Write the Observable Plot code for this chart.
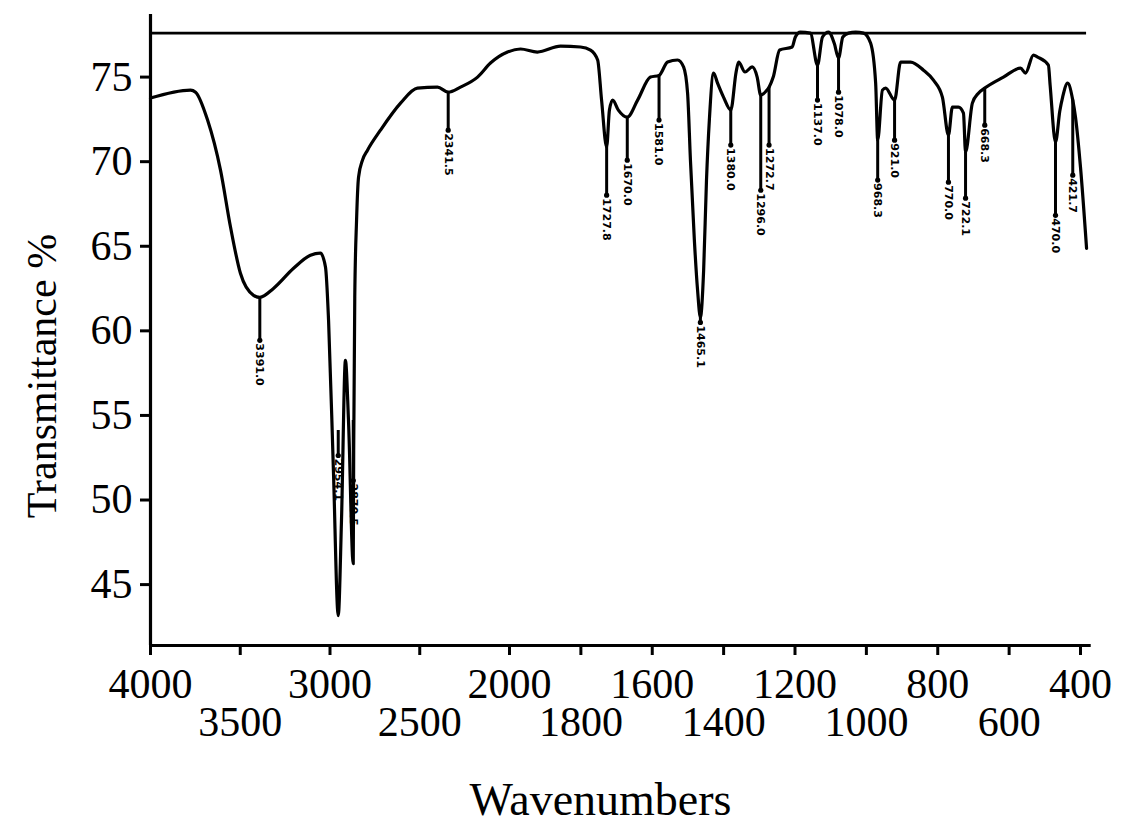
<!DOCTYPE html>
<html>
<head>
<meta charset="utf-8">
<script src="https://cdn.jsdelivr.net/npm/d3@7"></script>
<script src="https://cdn.jsdelivr.net/npm/@observablehq/plot@0.6"></script>
<style>
  body { margin: 0; background: #fff; }
</style>
</head>
<body>
<div id="chart"></div>
<script>
// IR spectrum: wavenumber (cm-1) against transmittance (%)
const wavenumber = [
  4000, 3777, 3749, 3682, 3610, 3554, 3499, 3426, 3391, 3315, 3203, 3109, 3053, 3025, 3008,
  2981, 2954.1, 2936, 2914, 2897, 2870.5, 2868, 2862, 2852, 2841, 2819, 2791, 2719, 2607,
  2513, 2401, 2341.5, 2273, 2178, 2106, 2011, 1969, 1922, 1857, 1801, 1773, 1753, 1742,
  1727.8, 1720, 1711, 1695, 1670, 1641, 1605, 1581, 1557, 1529, 1512, 1501, 1493, 1482,
  1473, 1465.1, 1456, 1448, 1440, 1428, 1417, 1400, 1380, 1365, 1358, 1340, 1320, 1306,
  1296, 1280, 1272.7, 1261, 1243, 1208, 1199, 1185, 1157, 1137, 1123, 1106, 1090, 1078,
  1066, 1050, 1030, 1008, 988, 974, 968.3, 955, 946, 921, 904, 876, 840, 812, 787, 770,
  759, 742, 728, 722.1, 703, 686, 668.3, 616, 568, 554, 532, 520, 490, 485, 470, 458, 450,
  436, 421.7, 414, 400, 383
];
const transmittance = [
  73.76, 74.23, 74.11, 72.46, 69.50, 66.12, 63.40, 62.10, 61.98, 62.51, 63.70, 64.47, 64.59, 63.76, 60.62,
  51.75, 43.17, 48.79, 58.25, 54.70, 46.24, 53.0, 62.0, 66.54, 69.08, 70.09, 70.68, 71.86, 73.46,
  74.35, 74.41, 74.11, 74.41, 75.0, 75.83, 76.48, 76.66, 76.48, 76.83, 76.78, 76.60, 76.01, 73.64,
  70.86, 73.05, 73.64, 73.05, 72.63, 73.64, 75.0, 75.1, 75.89, 76.01, 75.59, 74.05, 70.09, 65.36,
  62.40, 60.80, 63.58, 68.91, 72.46, 75.24, 74.64, 73.8, 73.05, 75.3, 75.89, 75.3, 75.6, 75.0,
  73.93, 74.2, 74.4, 75.0, 76.6, 76.78, 77.37, 77.66, 77.6, 75.71, 77.37, 77.66, 77.0, 76.12,
  77.37, 77.6, 77.66, 77.6, 77.0, 74.64, 71.27, 74.23, 74.35, 73.64, 75.89, 75.89, 75.41, 74.82, 73.82, 71.57,
  73.22, 73.22, 72.87, 70.56, 73.46, 74.05, 74.35, 75.0, 75.53, 75.24, 76.30, 76.18, 75.71, 74.5, 71.15, 73.0, 73.82,
  74.64, 73.64, 72.63, 69.67, 64.88
];

// Marked peaks: position, where the marker leaves the curve, where its label begins
const peakWavenumber = [3391.0, 2954.1, 2870.5, 2341.5, 1727.8, 1670.0, 1581.0, 1465.1, 1380.0, 1296.0,
  1272.7, 1137.0, 1078.0, 968.3, 921.0, 770.0, 722.1, 668.3, 470.0, 421.7];
const peakTop = [61.98, 54.11, 54.70, 74.11, 70.86, 72.63, 75.1, 60.80, 73.05, 73.93,
  74.4, 75.71, 76.12, 71.27, 73.64, 71.57, 70.56, 74.35, 71.15, 73.64];
const peakFoot = [59.44, 52.63, 51.15, 71.86, 68.02, 70.09, 72.46, 60.50, 70.98, 68.31,
  70.98, 73.64, 74.11, 68.91, 71.27, 68.79, 67.84, 72.16, 66.83, 69.20];

const ticksRowOne = [4000, 3000, 2000, 1600, 1200, 800, 400];
const ticksRowTwo = [3500, 2500, 1800, 1400, 1000, 600];
const yTicks = [45, 50, 55, 60, 65, 70, 75];
const referenceLevel = 77.6;
const yExtent = [41.4, 78.7];
const axisEnd = 370;

const spectrum = wavenumber.map((w, i) => ({w, t: transmittance[i]}));
const peaks = peakWavenumber.map((w, i) => ({w, top: peakTop[i], foot: peakFoot[i], label: w.toFixed(1)}));

const serif = "Liberation Serif";

const chart = Plot.plot({
  width: 1143,
  height: 824,
  marginLeft: 150,
  marginRight: 63,
  marginTop: 14,
  marginBottom: 179,
  style: {fontFamily: serif, background: "#fff", color: "#000"},
  // split wavenumber scale: 4000–2000 compressed, 2000–400 expanded
  x: {type: "linear", domain: [4000, 2000, 400], range: [150, 509, 1080], label: null},
  y: {type: "linear", domain: yExtent, label: null},
  marks: [
    // frame: left axis, bottom axis, reference line
    Plot.ruleX([4000], {y1: yExtent[0], y2: yExtent[1], strokeWidth: 3.2}),
    Plot.ruleY([yExtent[0]], {x1: 4000, x2: axisEnd, strokeWidth: 3}),
    Plot.ruleY([referenceLevel], {x1: 4000, x2: wavenumber[wavenumber.length - 1], strokeWidth: 2.6}),
    Plot.axisY(yTicks, {tickSize: 10, tickPadding: 8, fontSize: 42, strokeWidth: 3, label: null, tickFormat: d => `${d}`}),
    Plot.axisX(ticksRowOne, {tickSize: 10, tickPadding: 13, fontSize: 42, strokeWidth: 3, label: null, tickFormat: d => `${d}`}),
    Plot.axisX(ticksRowTwo, {tickSize: 10, tickPadding: 51, fontSize: 42, strokeWidth: 3, label: null, tickFormat: d => `${d}`}),
    Plot.text(["Transmittance %"], {frameAnchor: "left", textAnchor: "middle", lineAnchor: "middle",
      rotate: -90, dx: -108, dy: 46, fontSize: 42}),
    Plot.text(["Wavenumbers"], {frameAnchor: "bottom", textAnchor: "middle", lineAnchor: "middle",
      dx: -15, dy: 155, fontSize: 46}),
    // peak markers and their labels
    Plot.ruleX(peaks, {x: "w", y1: "top", y2: "foot", strokeWidth: 3}),
    Plot.dot(peaks, {x: "w", y: "foot", r: 2.6, fill: "#000", stroke: null}),
    Plot.text(peaks, {x: "w", y: "foot", text: "label", rotate: 90, textAnchor: "start", dy: 3,
      fontSize: 11, fontWeight: "bold", fontFamily: "DejaVu Sans"}),
    // spectrum trace
    Plot.line(spectrum, {x: "w", y: "t", curve: "monotone-x", stroke: "#000", strokeWidth: 3.2})
  ]
});

document.getElementById("chart").append(chart);
</script>
</body>
</html>
